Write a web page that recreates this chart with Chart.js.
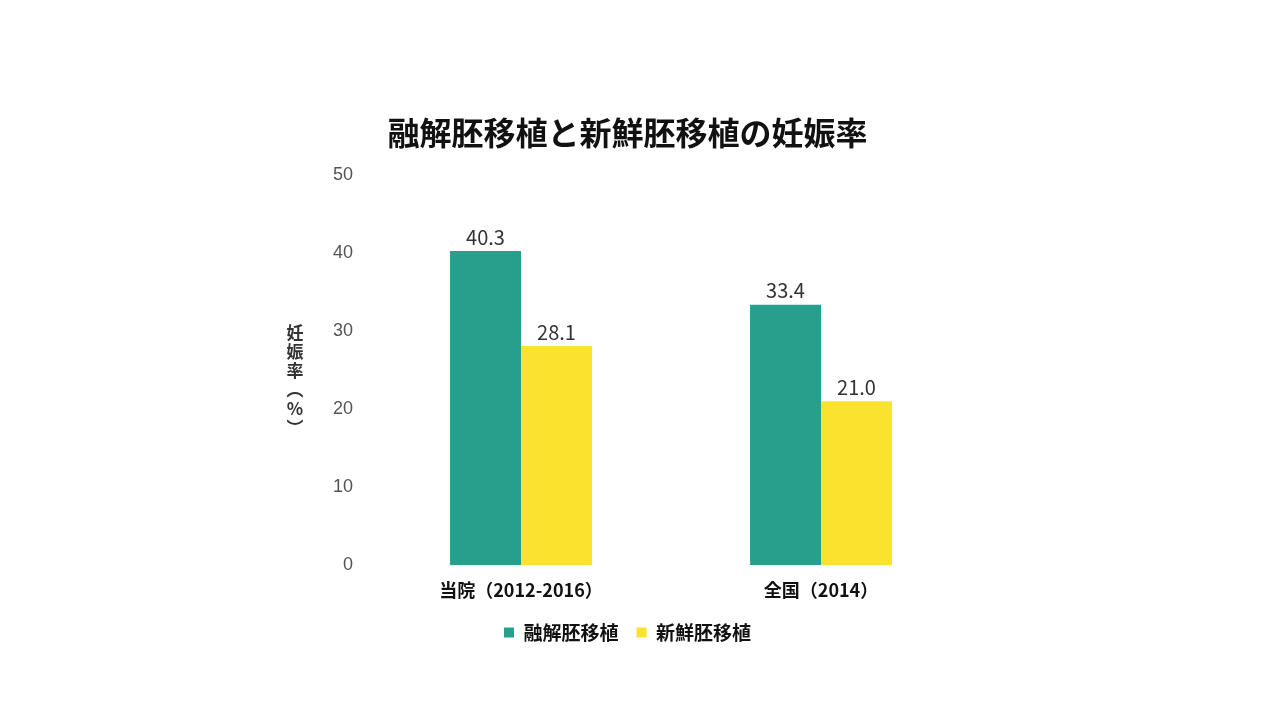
<!DOCTYPE html>
<html>
<head>
<meta charset="utf-8">
<script src="https://cdn.jsdelivr.net/npm/chart.js@4.4.1/dist/chart.umd.min.js"></script>
<style>
  html, body { margin: 0; padding: 0; background: #fff; }
  #wrap { width: 1280px; height: 720px; }
</style>
</head>
<body>
<div id="wrap"><canvas id="chart"></canvas></div>
<script>
const categories = ['当院（2012-2016）', '全国（2014）'];
const seriesNames = ['融解胚移植', '新鮮胚移植'];
const thawedValues = [40.3, 33.4];
const freshValues = [28.1, 21.0];
const yTicks = [0, 10, 20, 30, 40, 50];
const yTitleChars = ['妊', '娠', '率', '︵', '%', '︶'];

const CJK = '"Noto Sans CJK JP", "Noto Sans", sans-serif';

// value labels above each bar
const valueLabels = {
  id: 'valueLabels',
  afterDatasetsDraw(chart) {
    const { ctx } = chart;
    ctx.save();
    ctx.font = '20px ' + CJK;
    ctx.fillStyle = '#333';
    ctx.textAlign = 'center';
    ctx.textBaseline = 'bottom';
    chart.data.datasets.forEach((ds, i) => {
      chart.getDatasetMeta(i).data.forEach((bar, j) => {
        ctx.fillText(ds.data[j].toFixed(1), bar.x, bar.y - 4);
      });
    });
    ctx.restore();
  }
};

// vertical (upright) y axis title
const verticalTitle = {
  id: 'verticalTitle',
  afterDraw(chart) {
    const { ctx } = chart;
    const step = 19;
    const x = 295;
    const midY = 380;
    const startY = midY - (yTitleChars.length - 1) * step / 2;
    ctx.save();
    ctx.font = 'bold 17px ' + CJK;
    ctx.fillStyle = '#333';
    ctx.textAlign = 'center';
    ctx.textBaseline = 'middle';
    yTitleChars.forEach((c, i) => ctx.fillText(c, x, startY + i * step));
    ctx.restore();
  }
};

new Chart(document.getElementById('chart'), {
  type: 'bar',
  data: {
    labels: categories,
    datasets: [
      {
        label: seriesNames[0],
        data: thawedValues,
        backgroundColor: '#26a08c',
      },
      {
        label: seriesNames[1],
        data: freshValues,
        backgroundColor: '#fbe22c',
      },
    ],
  },
  options: {
    responsive: true,
    maintainAspectRatio: false,
    animation: false,
    layout: {
      padding: { top: 100, left: 284, right: 309, bottom: 68 },
    },
    datasets: {
      bar: { barPercentage: 1.0, categoryPercentage: 0.473 },
    },
    scales: {
      x: {
        afterFit(scale) { scale.height = 40; },
        grid: { display: false, drawTicks: false },
        border: { display: false },
        ticks: {
          padding: 14,
          color: '#111',
          font: { family: CJK, size: 18, weight: 'bold' },
        },
      },
      y: {
        min: 0,
        max: 50,
        afterFit(scale) { scale.width = 87; },
        afterBuildTicks(scale) { scale.ticks = yTicks.map(v => ({ value: v })); },
        grid: { display: false, drawTicks: false },
        border: { display: false },
        ticks: {
          padding: 18,
          color: '#555',
          font: { family: '"Liberation Sans", sans-serif', size: 18 },
        },
      },
    },
    plugins: {
      title: {
        display: true,
        text: '融解胚移植と新鮮胚移植の妊娠率',
        color: '#111',
        font: { family: CJK, size: 32, weight: 'bold', lineHeight: 1.2 },
        padding: { top: 14, bottom: 23 },
      },
      legend: {
        position: 'bottom',
        labels: {
          boxWidth: 10,
          boxHeight: 10,
          padding: 18,
          color: '#111',
          font: { family: CJK, size: 19, weight: 'bold' },
        },
      },
      tooltip: { enabled: false },
    },
  },
  plugins: [valueLabels, verticalTitle],
});
</script>
</body>
</html>
